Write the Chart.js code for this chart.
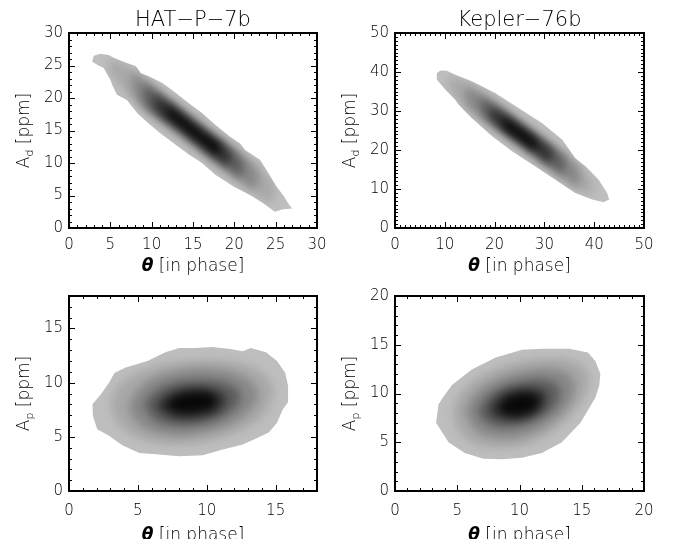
<!DOCTYPE html>
<html>
<head>
<meta charset="utf-8">
<script src="https://cdn.jsdelivr.net/npm/chart.js@4.4.1/dist/chart.umd.min.js"></script>
<style>
  html, body { margin: 0; padding: 0; background: #fff; }
  #fig { position: relative; width: 683px; height: 539px; overflow: hidden; }
  canvas { position: absolute; }
</style>
</head>
<body>
<div id="fig">
  <canvas id="hatAd" width="341" height="290" style="left:0;top:0"></canvas>
  <canvas id="kepAd" width="342" height="290" style="left:341px;top:0"></canvas>
  <canvas id="hatAp" width="341" height="269" style="left:0;top:270px"></canvas>
  <canvas id="kepAp" width="342" height="269" style="left:341px;top:270px"></canvas>
</div>
<script>
// grey shades, outer contour first
const shades = ['#bebebe', '#a8a8a8', '#888888', '#5e5e5e', '#303030', '#080808'];

// HAT-P-7b, theta vs A_d : contour levels (outer -> inner)
const hatAdLevels = [
  [[2.8,25.6],[3.0,26.5],[3.8,26.8],[4.8,26.6],[5.4,26.2],[6.5,25.6],[8.1,24.9],[8.7,23.8],[9.7,23.3],[11.3,22.3],
   [12.9,20.8],[14.5,19.2],[16.1,17.7],[17.7,15.9],[19.4,14.1],[20.7,13.0],[21.3,12.0],[23.1,10.5],[23.9,8.9],[25.1,6.4],
   [26.0,4.9],[26.6,3.6],[27.0,3.0],[25.9,2.9],[24.9,2.5],[23.5,3.8],[22.0,5.0],[19.9,6.4],[17.7,8.2],[16.1,10.0],
   [14.5,11.3],[12.9,12.8],[11.0,14.6],[9.7,16.0],[8.3,17.6],[7.0,19.7],[5.8,20.5],[5.3,21.8],[5.0,22.8],[4.2,24.6],[3.4,25.1]],
  [[5.0,26.0],[7.0,24.9],[9.0,23.0],[11.0,21.0],[13.0,19.1],[15.0,17.1],[17.0,15.1],[19.0,13.2],[21.0,11.2],[23.0,9.1],[24.8,6.6],
   [24.5,4.0],[23.0,4.9],[21.0,6.8],[19.0,8.6],[17.0,10.5],[15.0,12.4],[13.0,14.3],[11.0,16.2],[9.0,18.3],[7.2,20.6],[5.8,22.6],[4.8,24.5]],
  [[7.5,24.1],[9.0,22.8],[11.0,20.8],[13.0,18.9],[15.0,16.9],[17.0,14.9],[19.0,13.0],[21.0,11.0],[22.8,8.7],
   [22.5,6.0],[21.0,7.0],[19.0,9.0],[17.0,10.9],[15.0,12.9],[13.0,14.9],[11.0,16.8],[9.0,18.8],[7.8,20.7]],
  [[9.0,22.3],[11.0,20.4],[13.0,18.5],[15.0,16.5],[17.0,14.5],[19.0,12.6],[21.0,10.2],
   [20.8,8.0],[19.0,9.4],[17.0,11.3],[15.0,13.3],[13.0,15.3],[11.0,17.2],[9.2,19.0]],
  [[10.3,20.7],[13.0,18.1],[15.0,16.1],[17.0,14.1],[19.5,11.5],[19.2,9.8],[17.0,11.7],[15.0,13.7],[13.0,15.7],[10.5,18.1]],
  [[11.8,19.0],[14.0,16.8],[16.0,14.8],[18.2,12.7],[18.0,11.3],[16.0,13.1],[14.0,15.1],[12.0,17.3]]
];

// Kepler-76b, theta vs A_d
const kepAdLevels = [
  [[8.4,39.7],[9.1,40.4],[10.4,40.3],[12.1,39.3],[15.4,37.6],[20.1,34.6],[24.8,30.8],[29.5,26.9],[33.6,22.6],[36.2,17.9],
   [38.3,15.8],[40.9,12.4],[42.6,9.0],[43.0,7.3],[41.9,6.6],[39.6,7.3],[36.2,9.0],[32.2,12.4],[28.2,15.8],[23.5,19.7],
   [19.5,23.5],[15.4,28.2],[12.8,31.6],[12.1,32.9],[10.1,35.5],[8.4,38.0]],
  [[11.0,38.8],[14.0,37.6],[17.0,35.2],[20.0,32.5],[23.0,29.7],[26.0,27.0],[29.0,24.1],[32.0,21.2],[35.0,18.2],[37.5,15.0],[39.5,12.0],
   [39.6,8.6],[38.0,9.3],[35.0,11.3],[32.0,14.0],[29.0,16.8],[26.0,19.6],[23.0,22.5],[20.0,25.3],[17.0,28.1],[14.0,31.0],[11.5,34.6],[10.6,37.0]],
  [[14.0,36.3],[17.0,34.6],[20.0,31.9],[23.0,29.1],[26.0,26.3],[29.0,23.4],[32.0,20.6],[35.0,17.6],[37.0,15.0],
   [36.6,10.4],[35.0,11.9],[32.0,14.7],[29.0,17.5],[26.0,20.4],[23.0,23.2],[20.0,26.0],[17.0,28.8],[14.5,31.8]],
  [[17.0,33.5],[20.0,31.3],[23.0,28.5],[26.0,25.7],[29.0,22.8],[32.0,20.0],[34.0,17.6],
   [33.6,13.8],[32.0,15.3],[29.0,18.1],[26.0,21.0],[23.0,23.8],[20.0,26.6],[17.6,29.4]],
  [[19.0,31.2],[22.0,29.0],[25.0,26.2],[28.0,23.4],[31.5,19.8],[31.0,16.9],[28.0,19.6],[25.0,22.4],[22.0,25.2],[19.4,27.9]],
  [[21.5,28.6],[24.5,26.0],[28.5,22.0],[28.0,20.2],[25.0,22.8],[22.0,25.6]]
];

// HAT-P-7b, theta vs A_p
const hatApLevels = [
  [[1.7,8.0],[1.74,6.9],[2.05,5.7],[2.9,5.1],[3.9,4.2],[5.1,3.5],[6.3,3.4],[8.0,3.2],[9.7,3.3],[11.1,3.8],[12.6,4.3],
   [13.5,4.8],[14.5,5.4],[15.1,6.3],[15.5,7.5],[15.9,8.2],[15.9,9.7],[15.7,10.9],[15.1,12.0],[14.3,12.8],[13.2,13.2],
   [12.6,12.9],[11.7,13.1],[10.4,13.3],[9.2,13.2],[8.0,13.2],[7.0,12.8],[5.7,12.0],[4.1,11.4],[3.3,10.9],[2.9,10.0],[2.3,8.9]],
  [[3.0,8.0],[3.5,9.6],[4.8,10.8],[6.5,11.6],[8.5,12.0],[10.5,12.1],[12.5,11.8],[14.0,11.0],[14.8,9.6],[14.6,8.0],
   [13.8,6.6],[12.3,5.5],[10.2,4.6],[8.0,4.3],[6.0,4.5],[4.4,5.3],[3.4,6.5]],
  [[4.3,7.8],[5.0,9.4],[6.4,10.6],[8.3,11.2],[10.3,11.3],[12.1,10.9],[13.4,9.9],[13.7,8.6],[13.0,7.2],[11.5,6.0],
   [9.6,5.3],[7.6,5.1],[5.8,5.6],[4.7,6.6]],
  [[5.4,7.9],[6.1,9.1],[7.5,10.0],[9.3,10.3],[11.1,10.1],[12.3,9.3],[12.4,8.2],[11.4,7.0],[9.8,6.2],[7.9,6.0],[6.3,6.5]],
  [[6.3,7.9],[7.1,8.9],[8.7,9.5],[10.4,9.4],[11.4,8.6],[11.0,7.5],[9.7,6.8],[7.9,6.7],[6.8,7.2]],
  [[7.0,8.0],[7.9,8.8],[9.3,9.1],[10.5,8.8],[10.5,7.8],[9.3,7.3],[7.8,7.3]]
];

// Kepler-76b, theta vs A_p
const kepApLevels = [
  [[3.5,8.9],[3.3,7.0],[3.8,6.0],[4.3,5.0],[5.6,3.9],[7.1,3.3],[8.6,3.25],[10.2,3.4],[11.8,3.9],[13.4,5.0],[14.9,7.0],
   [16.1,9.6],[16.4,10.8],[16.5,12.0],[16.1,13.3],[15.5,14.2],[14.0,14.6],[11.8,14.6],[10.2,14.5],[8.1,13.7],[6.2,12.5],
   [4.6,10.9],[3.9,9.7]],
  [[4.6,7.8],[5.0,9.5],[6.0,11.0],[7.7,12.3],[9.8,13.2],[12.0,13.6],[14.0,13.5],[15.3,12.6],[15.6,11.0],[15.0,9.2],
   [13.8,7.3],[12.0,5.6],[10.0,4.6],[8.0,4.4],[6.2,4.9],[5.1,6.2]],
  [[5.6,8.0],[6.1,9.5],[7.3,10.9],[9.0,11.9],[11.0,12.5],[13.0,12.5],[14.3,11.6],[14.4,10.0],[13.6,8.2],[12.0,6.6],
   [10.2,5.6],[8.3,5.4],[6.6,6.1]],
  [[6.6,8.2],[7.3,9.6],[8.6,10.7],[10.3,11.3],[12.1,11.4],[13.2,10.6],[13.1,9.1],[12.0,7.7],[10.4,6.8],[8.6,6.5],[7.2,7.1]],
  [[7.5,8.4],[8.3,9.7],[9.8,10.4],[11.4,10.5],[12.2,9.7],[11.8,8.4],[10.6,7.5],[9.0,7.3],[7.9,7.7]],
  [[8.3,8.6],[9.1,9.6],[10.5,10.0],[11.5,9.5],[11.2,8.4],[10.1,7.8],[8.9,7.9]]
];

// tick labels
const hatAdXTicks = [0, 5, 10, 15, 20, 25, 30];
const hatAdYTicks = [0, 5, 10, 15, 20, 25, 30];
const kepAdXTicks = [0, 10, 20, 30, 40, 50];
const kepAdYTicks = [0, 10, 20, 30, 40, 50];
const hatApXTicks = [0, 5, 10, 15];
const hatApYTicks = [0, 5, 10, 15];
const kepApXTicks = [0, 5, 10, 15, 20];
const kepApYTicks = [0, 5, 10, 15, 20];

const titles = ['HAT\u2212P\u22127b', 'Kepler\u221276b'];
const FONT = '"DejaVu Sans", sans-serif';
const W = '300 ';

// frame with inward ticks on all sides, titles, soft inner levels
const framePlugin = {
  id: 'frame',
  afterDatasetDraw(chart, args) {
    if (args.index !== 0) return;
    const ctx = chart.ctx;
    ctx.save();
    ctx.beginPath();
    args.meta.data.forEach((p, i) => i ? ctx.lineTo(p.x, p.y) : ctx.moveTo(p.x, p.y));
    ctx.closePath();
    ctx.clip();
    ctx.filter = 'blur(4px)';
  },
  afterDatasetsDraw(chart) {
    chart.ctx.restore();
  },
  afterDraw(chart, args, o) {
    const ctx = chart.ctx;
    const a = chart.chartArea;
    const sx = chart.scales.x, sy = chart.scales.y;
    ctx.save();
    ctx.filter = 'none';
    ctx.strokeStyle = '#000';
    ctx.lineWidth = 1;
    ctx.beginPath();
    for (let v = sx.min; v <= sx.max; v++) {
      const px = Math.round(sx.getPixelForValue(v)) + 0.5;
      const len = o.xTicks.includes(v) ? 6 : 3;
      ctx.moveTo(px, a.bottom); ctx.lineTo(px, a.bottom - len);
      ctx.moveTo(px, a.top); ctx.lineTo(px, a.top + len);
    }
    for (let v = sy.min; v <= sy.max; v++) {
      const py = Math.round(sy.getPixelForValue(v)) + 0.5;
      const len = o.yTicks.includes(v) ? 6 : 3;
      ctx.moveTo(a.left, py); ctx.lineTo(a.left + len, py);
      ctx.moveTo(a.right, py); ctx.lineTo(a.right - len, py);
    }
    ctx.stroke();
    ctx.lineWidth = 2;
    ctx.strokeRect(a.left, a.top, a.right - a.left, a.bottom - a.top);

    ctx.fillStyle = '#000';
    ctx.textBaseline = 'middle';
    // panel title
    if (o.title) {
      ctx.textAlign = 'center';
      ctx.font = W + '21px ' + FONT;
      ctx.fillText(o.title, (a.left + a.right) / 2, 21);
    }
    ctx.textAlign = 'left';
    // x title: theta [in phase]
    ctx.font = 'italic bold 17px ' + FONT;
    const wt = ctx.measureText('\u03b8').width;
    ctx.font = W + '17px ' + FONT;
    const wr = ctx.measureText(' [in phase]').width;
    let x0 = (a.left + a.right) / 2 - (wt + wr) / 2;
    const yx = a.bottom + o.xTitleOffset;
    ctx.font = 'italic bold 17px ' + FONT;
    ctx.fillText('\u03b8', x0, yx);
    ctx.font = W + '17px ' + FONT;
    ctx.fillText(' [in phase]', x0 + wt, yx);

    // y title: A_sub [ppm]
    ctx.translate(a.left - 44, (a.top + a.bottom) / 2);
    ctx.rotate(-Math.PI / 2);
    ctx.font = W + '17px ' + FONT;
    const wA = ctx.measureText('A').width;
    const wu = ctx.measureText(' [ppm]').width;
    ctx.font = W + '11px ' + FONT;
    const ws = ctx.measureText(o.ySub).width;
    x0 = -(wA + ws + wu) / 2;
    ctx.font = W + '17px ' + FONT;
    ctx.fillText('A', x0, 0);
    ctx.font = W + '11px ' + FONT;
    ctx.fillText(o.ySub, x0 + wA, 5);
    ctx.font = W + '17px ' + FONT;
    ctx.fillText(' [ppm]', x0 + wA + ws, 0);
    ctx.restore();
  }
};

function makePanel(id, p) {
  const n = p.levels.length;
  const datasets = p.levels.map((pts, i) => ({
    data: pts.concat([pts[0]]).map(([x, y]) => ({x, y})),
    showLine: true,
    fill: 'shape',
    backgroundColor: shades[i],
    borderColor: shades[i],
    borderWidth: 0,
    pointRadius: 0,
    tension: i === 0 ? 0 : 0.35,
    order: n - i
  }));
  const tickFont = {family: FONT, size: 15, weight: '300'};
  return new Chart(document.getElementById(id), {
    type: 'scatter',
    data: {datasets},
    plugins: [framePlugin],
    options: {
      responsive: false,
      animation: false,
      events: [],
      layout: {padding: {left: 0, right: p.padRight, top: p.padTop, bottom: 0}},
      plugins: {
        legend: {display: false},
        tooltip: {enabled: false},
        frame: {xTicks: p.xTicks, yTicks: p.yTicks, ySub: p.ySub, xTitleOffset: p.xTitleOffset, title: p.title}
      },
      scales: {
        x: {
          type: 'linear', min: 0, max: p.xMax,
          grid: {display: false, drawTicks: false},
          border: {display: false},
          afterBuildTicks: s => { s.ticks = p.xTicks.map(v => ({value: v})); },
          afterFit: s => { s.height = p.xHeight; },
          ticks: {color: '#000', font: tickFont, padding: p.xTickPad, autoSkip: false, maxRotation: 0}
        },
        y: {
          type: 'linear', min: 0, max: p.yMax,
          grid: {display: false, drawTicks: false},
          border: {display: false},
          afterBuildTicks: s => { s.ticks = p.yTicks.map(v => ({value: v})); },
          afterFit: s => { s.width = p.yWidth; },
          ticks: {color: '#000', font: tickFont, padding: 6, autoSkip: false}
        }
      }
    }
  });
}

makePanel('hatAd', {levels: hatAdLevels, xTicks: hatAdXTicks, yTicks: hatAdYTicks, xMax: 30, yMax: 30,
  title: titles[0], ySub: 'd', padTop: 33, padRight: 24, yWidth: 69, xHeight: 62, xTickPad: 8, xTitleOffset: 39});
makePanel('kepAd', {levels: kepAdLevels, xTicks: kepAdXTicks, yTicks: kepAdYTicks, xMax: 50, yMax: 50,
  title: titles[1], ySub: 'd', padTop: 33, padRight: 39, yWidth: 54, xHeight: 62, xTickPad: 8, xTitleOffset: 39});
makePanel('hatAp', {levels: hatApLevels, xTicks: hatApXTicks, yTicks: hatApYTicks, xMax: 18, yMax: 18,
  title: null, ySub: 'p', padTop: 26, padRight: 24, yWidth: 69, xHeight: 48, xTickPad: 11, xTitleOffset: 45});
makePanel('kepAp', {levels: kepApLevels, xTicks: kepApXTicks, yTicks: kepApYTicks, xMax: 20, yMax: 20,
  title: null, ySub: 'p', padTop: 26, padRight: 39, yWidth: 54, xHeight: 48, xTickPad: 11, xTitleOffset: 45});
</script>
</body>
</html>
